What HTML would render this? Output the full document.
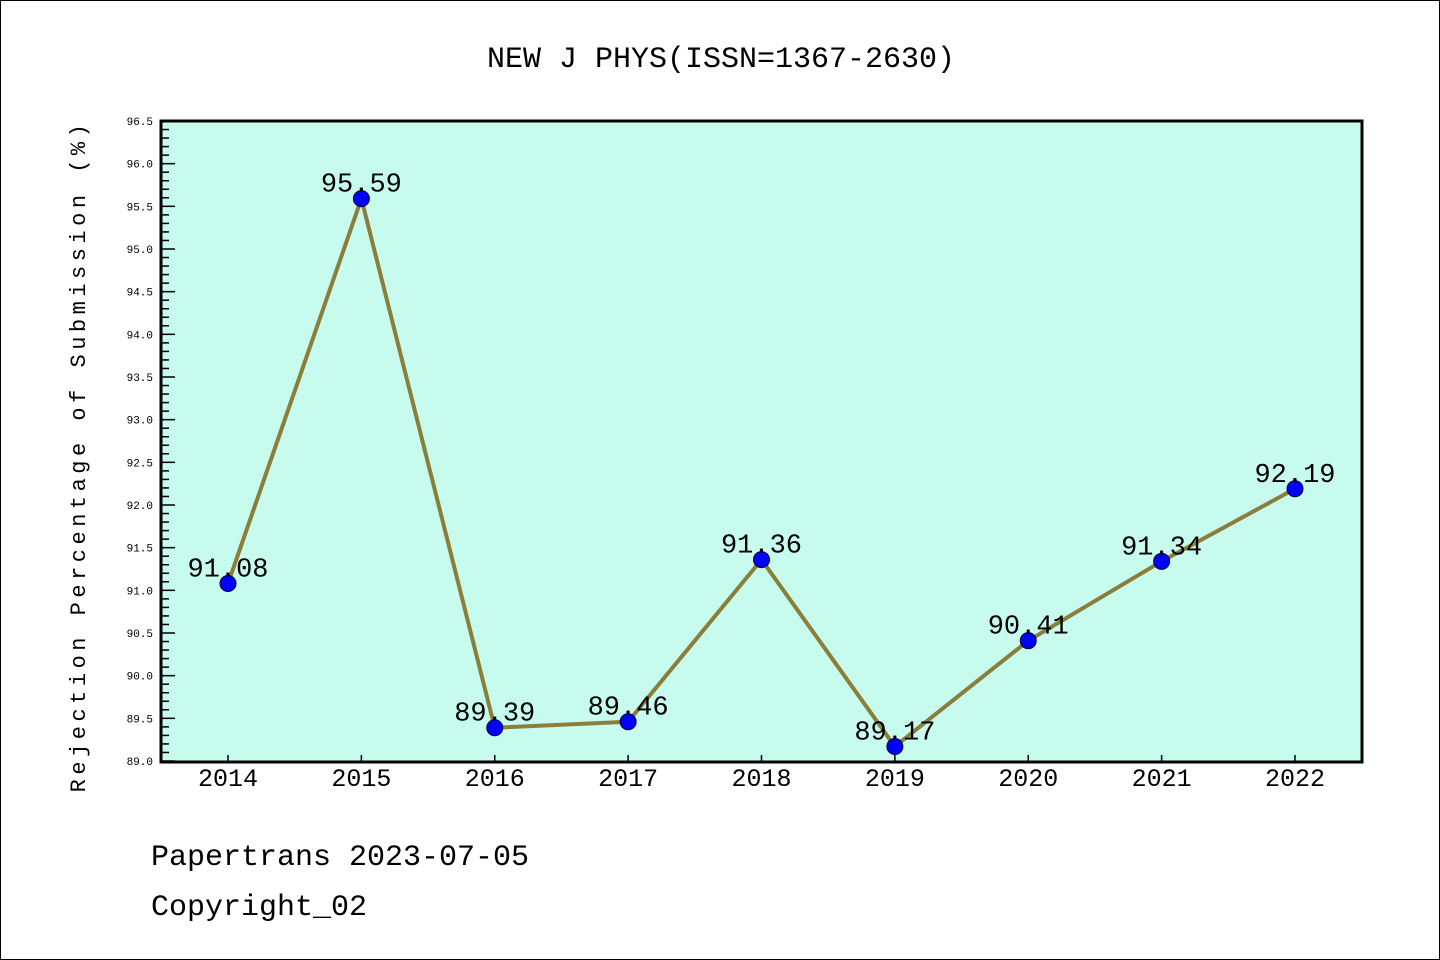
<!DOCTYPE html>
<html><head><meta charset="utf-8"><style>
html,body{margin:0;padding:0;background:#fff}
#wrap{position:relative;width:1440px;height:960px;box-sizing:border-box;border:1px solid #000;overflow:hidden}
svg text{font-family:"WenQuanYi Zen Hei Mono","Liberation Mono",monospace}
</style></head><body>
<div id="wrap">
<svg id="chart" width="1440" height="960">
<text x="720" y="66" font-size="30" text-anchor="middle">NEW J PHYS(ISSN=1367-2630)</text>
<rect x="160" y="120" width="1201" height="641" fill="#c7fbee"/>
<g id="ticks"></g>
<g id="series"></g>
<rect x="160" y="120" width="1201" height="641" fill="none" stroke="#000" stroke-width="3"/>
<text transform="translate(84,455) rotate(-90)" font-size="22" text-anchor="middle" letter-spacing="4.5">Rejection Percentage of Submission (%)</text>
<text x="150" y="864" font-size="30">Papertrans 2023-07-05</text>
<text x="150" y="914" font-size="30">Copyright_02</text>
</svg></div>
<script>
const years=["2014","2015","2016","2017","2018","2019","2020","2021","2022"];
const values=[91.08,95.59,89.39,89.46,91.36,89.17,90.41,91.34,92.19];
const yTickLabels=["89.0","89.5","90.0","90.5","91.0","91.5","92.0","92.5","93.0","93.5","94.0","94.5","95.0","95.5","96.0","96.5"];
const NS="http://www.w3.org/2000/svg";
const yMin=89,yMax=96.5,plotTop=120,plotBot=760;
function yS(v){return plotBot-(v-yMin)/(yMax-yMin)*(plotBot-plotTop);}
function xS(i){return 227+i*(1294-227)/(years.length-1);}
function mk(t,a,p){const e=document.createElementNS(NS,t);for(const k in a)e.setAttribute(k,a[k]);p.appendChild(e);return e;}
const tg=document.getElementById('ticks'),sg=document.getElementById('series');
for(let k=0;k<=75;k++){const v=yMin+k*0.1;const major=k%5===0;
 const l=mk('line',{x1:160,x2:major?174:168,y1:yS(v),y2:yS(v),stroke:'#000','stroke-width':1.5},tg);
 
 }
yTickLabels.forEach(s=>{const t=mk('text',{x:152,y:yS(parseFloat(s))+4,'font-size':11,'text-anchor':'end'},tg);t.textContent=s;
 
 });
years.forEach((y,i)=>{const l=mk('line',{x1:xS(i),x2:xS(i),y1:761,y2:754,stroke:'#000','stroke-width':1.5},tg);
 
 
 const t=mk('text',{x:xS(i),y:785,'font-size':25,'text-anchor':'middle'},tg);t.textContent=y;
 
 });
const pl=mk('polyline',{points:values.map((v,i)=>xS(i)+','+yS(v)).join(' '),fill:'none',stroke:'#8b7d3a','stroke-width':4,'stroke-linejoin':'round'},sg);


values.forEach((v,i)=>{const c=mk('circle',{cx:xS(i),cy:yS(v),r:8,fill:'#0000ff',stroke:'#000033','stroke-width':1},sg);
 
 
 const t=mk('text',{x:xS(i),y:yS(v)-7,'font-size':27,'text-anchor':'middle'},sg);t.textContent=v.toFixed(2);
 
 });
</script>
</body></html>
